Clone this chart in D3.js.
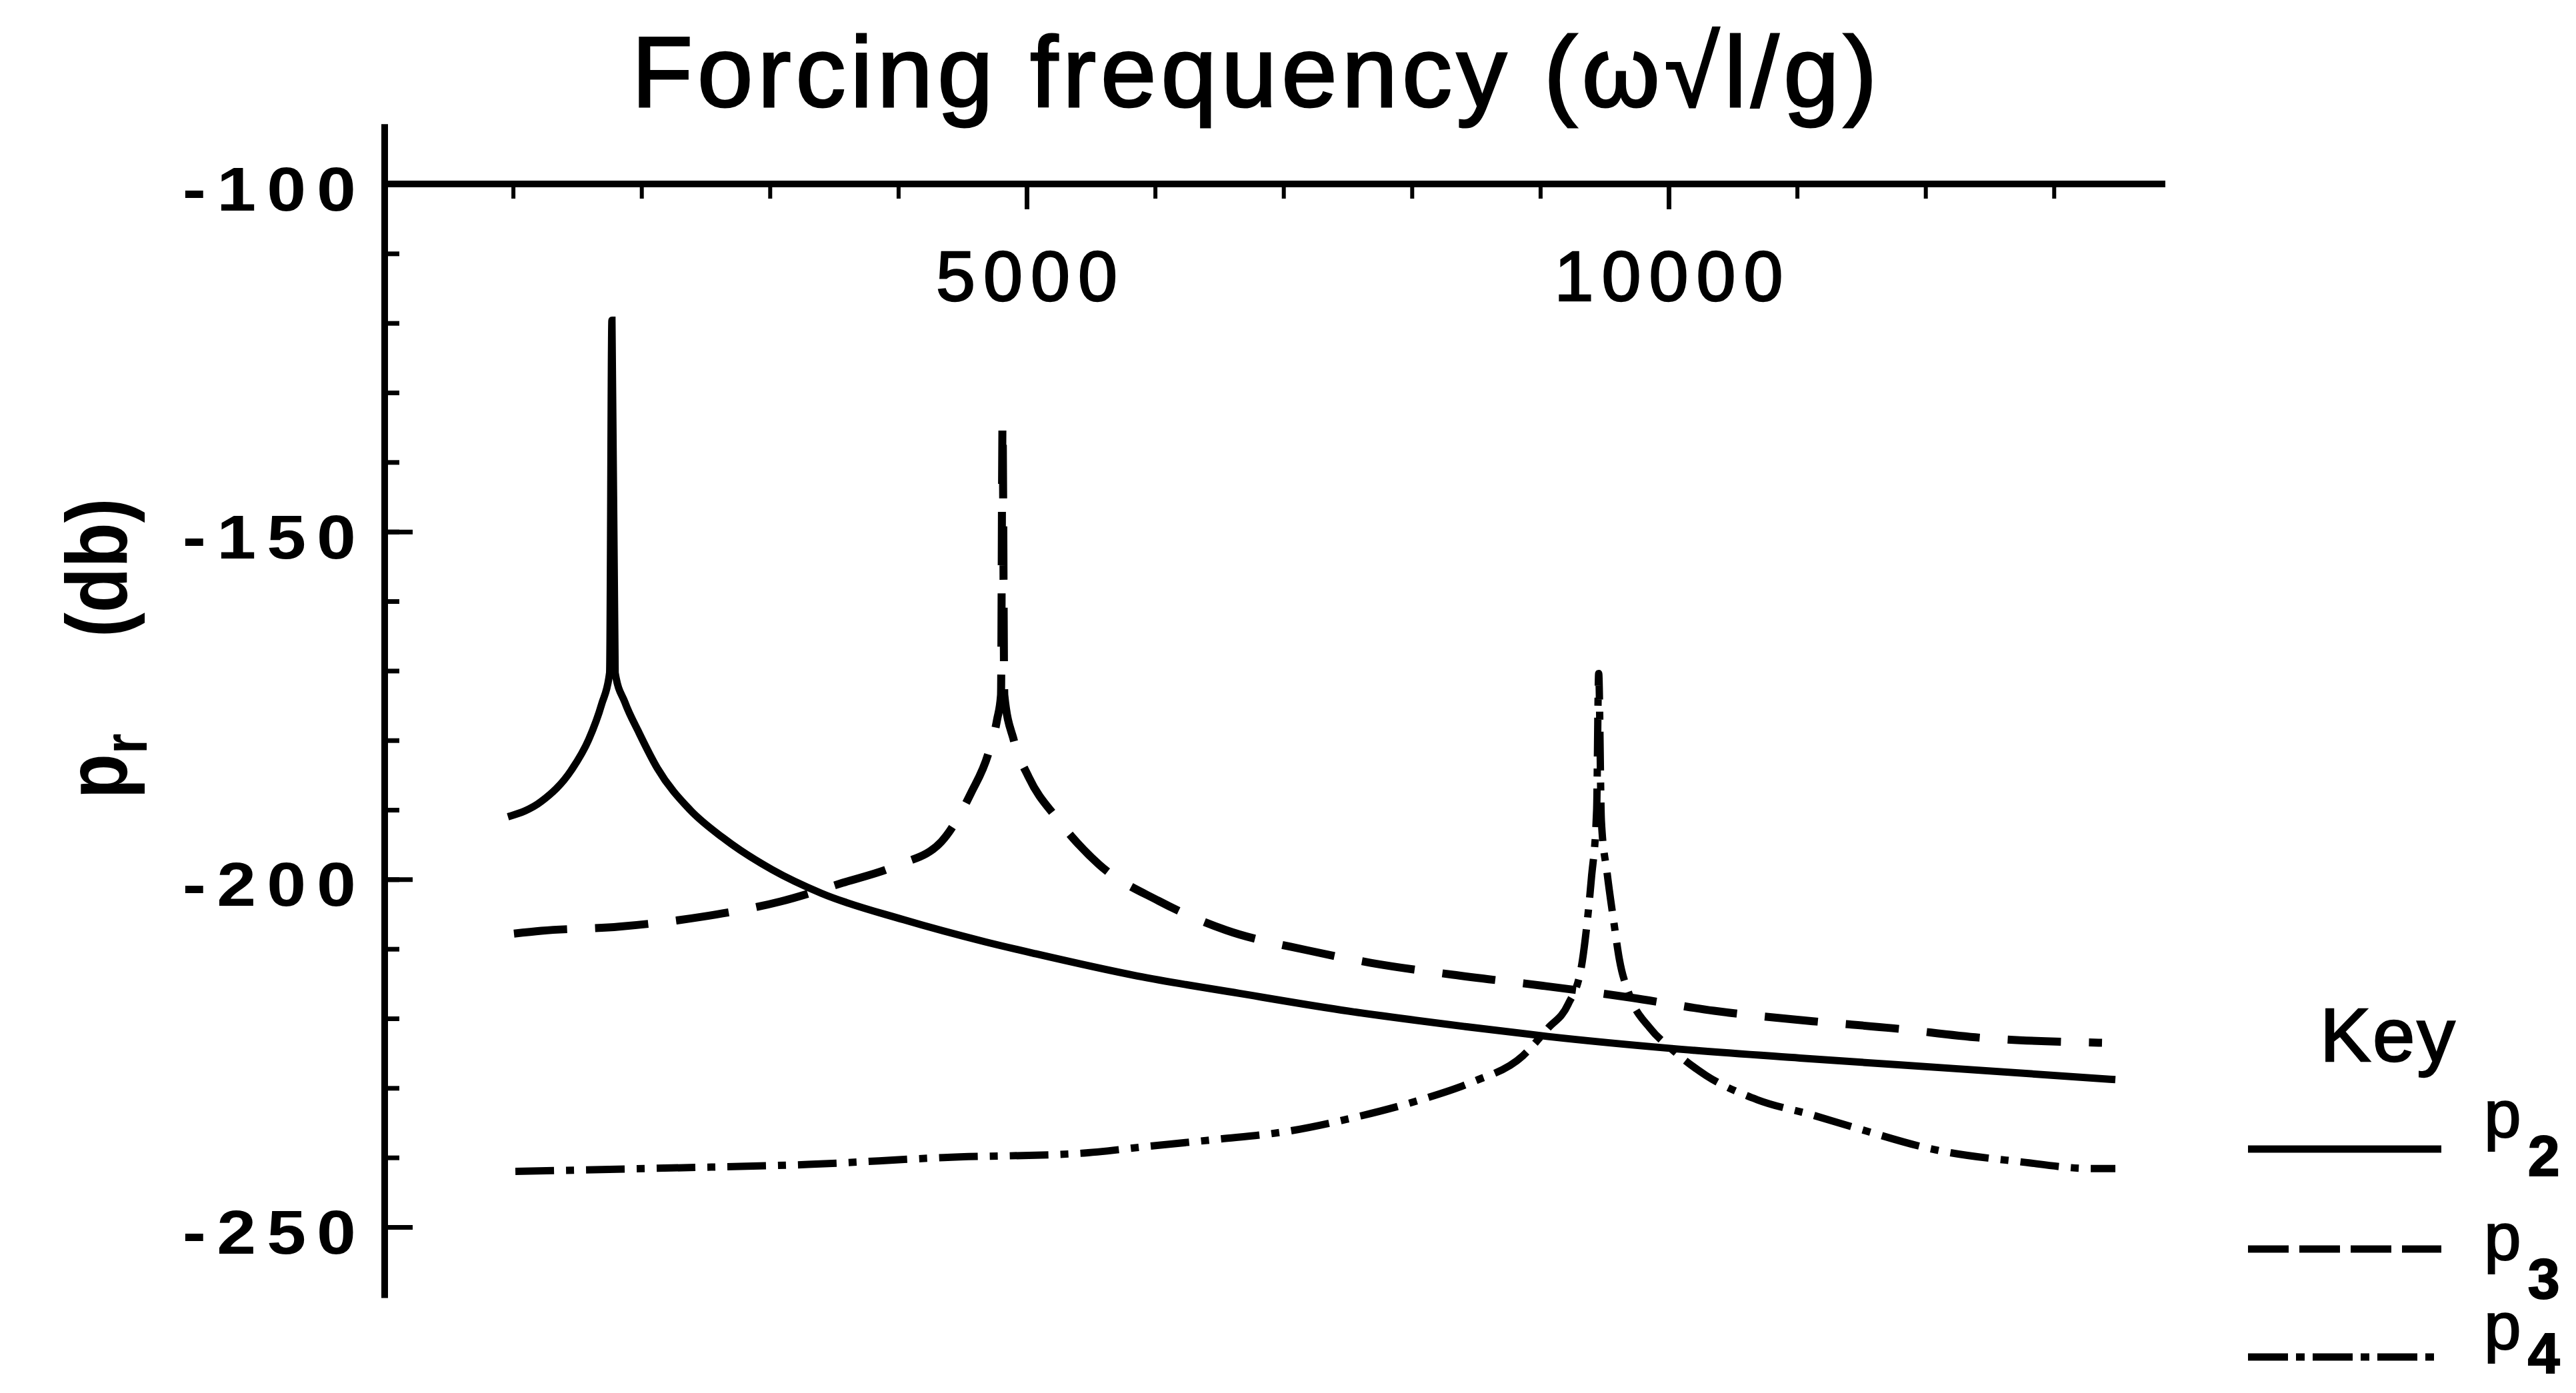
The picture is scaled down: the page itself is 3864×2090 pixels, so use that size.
<!DOCTYPE html>
<html>
<head>
<meta charset="utf-8">
<script src="https://cdn.jsdelivr.net/npm/d3@7"></script>
<style>
  html, body { margin: 0; padding: 0; background: #fff; }
  svg { display: block; background: #fff; }
  text { font-family: "Liberation Sans", Arial, Helvetica, sans-serif; fill: #000; }
  .heavy { stroke: #000; paint-order: stroke; }
</style>
</head>
<body>
<div id="chart"></div>
<script>

// values (frequency, level in db)
var p2Freq = [960, 1220, 1454, 1589, 1690, 1752, 1770, 1795, 1870, 1983, 2123, 2378, 2633, 3017, 3401, 4040, 4680, 5068, 5862, 6656, 7451, 8427, 9060, 10010, 11023, 12217, 13479];
var p2Db   = [-191.0, -188.8, -184.3, -179.9, -174.8, -170.3, -119.6, -170.3, -174.5, -179.0, -184.0, -190.0, -194.0, -198.6, -202.0, -205.8, -209.0, -210.7, -213.9, -216.4, -218.8, -221.2, -222.6, -224.3, -225.7, -227.2, -228.8];

var p3Freq = [1007, 1220, 1828, 2466, 3079, 3567, 3988, 4335, 4569, 4700, 4770, 4800, 4812, 4826, 4900, 5016, 5234, 5566, 6028, 6552, 7186, 7679, 8312, 9019, 9704, 10353, 11122, 11740, 12445, 13141, 13375];
var p3Db   = [-207.8, -207.4, -206.8, -205.4, -203.2, -200.5, -198.0, -194.6, -187.5, -182.0, -177.0, -173.5, -134.5, -173.5, -180.0, -185.3, -191.2, -197.9, -203.1, -207.3, -210.2, -212.0, -213.7, -215.3, -217.0, -218.9, -220.4, -221.4, -222.8, -223.4, -223.5];

var p4Freq = [1018, 2238, 3297, 4356, 5415, 5945, 6475, 7009, 7539, 8069, 8463, 8863, 9060, 9216, 9320, 9356, 9398, 9439, 9455, 9476, 9520, 9574, 9616, 9694, 9855, 10016, 10291, 10691, 11122, 11449, 12077, 12731, 13307, 13479];
var p4Db   = [-242.0, -241.5, -241.0, -240.0, -239.4, -238.4, -237.4, -236.3, -234.3, -231.7, -229.2, -225.4, -221.4, -218.0, -212.6, -207.7, -199.9, -190.1, -170.4, -191.6, -199.0, -206.3, -211.5, -216.6, -221.4, -224.3, -228.2, -231.7, -233.9, -235.7, -238.9, -240.6, -241.6, -241.6];

var seriesNames = ["2", "3", "4"];

var xMinorTicks = [1000, 2000, 3000, 4000, 5000, 6000, 7000, 8000, 9000, 10000, 11000, 12000, 13000];
var xMajorTicks = [5000, 10000];
var xTickLabels = ["5000", "10000"];

var yMinorTicks = [-110, -120, -130, -140, -150, -160, -170, -180, -190, -200, -210, -220, -230, -240, -250];
var yMajorTicks = [-150, -200, -250];
var yLabelTicks = [-100, -150, -200, -250];
var yTickLabels = ["-100", "-150", "-200", "-250"];

var width = 3864, height = 2090;

var svg = d3.select("#chart")
  .append("svg")
    .attr("width", width)
    .attr("height", height);

// scales
var x = d3.scaleLinear()
  .domain([0, 10000])
  .range([577, 2503]);

var y = d3.scaleLinear()
  .domain([-100, -250])
  .range([276, 1841]);

var axisW = 10;

// top (frequency) axis
svg.append("line")
  .attr("x1", x(0) - 5).attr("x2", x(13868))
  .attr("y1", y(-100)).attr("y2", y(-100))
  .attr("stroke", "#000").attr("stroke-width", axisW);

svg.append("g")
  .attr("transform", "translate(0," + y(-100) + ")")
  .call(d3.axisBottom(x).tickValues(xMinorTicks).tickSize(22).tickFormat(""))
  .call(function(g) { g.select(".domain").remove(); })
  .selectAll("line").attr("stroke-width", 6);

svg.append("g")
  .attr("transform", "translate(0," + y(-100) + ")")
  .call(d3.axisBottom(x).tickValues(xMajorTicks).tickSize(38).tickFormat(""))
  .call(function(g) { g.select(".domain").remove(); })
  .selectAll("line").attr("stroke-width", 7);

// level axis
svg.append("line")
  .attr("x1", x(0)).attr("x2", x(0))
  .attr("y1", y(-91.4)).attr("y2", y(-260.2))
  .attr("stroke", "#000").attr("stroke-width", axisW);

svg.append("g")
  .attr("transform", "translate(" + x(0) + ",0)")
  .call(d3.axisRight(y).tickValues(yMinorTicks).tickSize(22).tickFormat(""))
  .call(function(g) { g.select(".domain").remove(); })
  .selectAll("line").attr("stroke-width", 7);

svg.append("g")
  .attr("transform", "translate(" + x(0) + ",0)")
  .call(d3.axisRight(y).tickValues(yMajorTicks).tickSize(42).tickFormat(""))
  .call(function(g) { g.select(".domain").remove(); })
  .selectAll("line").attr("stroke-width", 7);

// tick labels
svg.append("g").selectAll("text")
  .data(xMajorTicks)
  .enter().append("text")
    .attr("class", "heavy")
    .attr("x", function(d) { return x(d) + 6; })
    .attr("y", 451)
    .attr("text-anchor", "middle")
    .style("font-size", "106px")
    .style("letter-spacing", "12px")
    .style("stroke-width", "2.5px")
    .text(function(d, i) { return xTickLabels[i]; });

// the plotter font is wide and loosely spaced
svg.append("g").selectAll("text")
  .data(yLabelTicks)
  .enter().append("text")
    .attr("transform", function(d) { return "translate(550," + (y(d) + 40) + ") scale(1.15,1)"; })
    .attr("text-anchor", "end")
    .style("font-size", "92px")
    .style("font-weight", "bold")
    .style("letter-spacing", "14px")
    .text(function(d, i) { return yTickLabels[i]; });

// titles
svg.append("text")
  .attr("class", "heavy")
  .attr("x", 1885)
  .attr("y", 160)
  .attr("text-anchor", "middle")
  .style("font-size", "150px")
  .style("letter-spacing", "7px")
  .style("stroke-width", "3px")
  .text("Forcing frequency (\u03c9\u221al/g)");

var yTitle = svg.append("text")
  .attr("transform", "translate(190,973) rotate(-90) scale(0.85,1)")
  .attr("text-anchor", "middle")
  .style("font-size", "130px")
  .style("font-weight", "bold");
yTitle.append("tspan").text("p");
yTitle.append("tspan").attr("dy", 30).style("font-size", "92px").text("r");
yTitle.append("tspan").attr("dy", -30).attr("dx", 170).text("(db)");

// curves
var line = d3.line()
  .x(function(d) { return x(d[0]); })
  .y(function(d) { return y(d[1]); })
  .curve(d3.curveMonotoneX);

var curves = [
  { f: p2Freq, v: p2Db, dash: null, w: 11 },
  { f: p3Freq, v: p3Db, dash: "80,42", w: 12 },
  { f: p4Freq, v: p4Db, dash: "58,18,12,18", w: 11 }
];

svg.append("g").selectAll("path")
  .data(curves)
  .enter().append("path")
    .attr("d", function(c) { return line(d3.zip(c.f, c.v)); })
    .attr("fill", "none")
    .attr("stroke", "#000")
    .attr("stroke-width", function(c) { return c.w; })
    .attr("stroke-dasharray", function(c) { return c.dash; });

// key
svg.append("text")
  .attr("class", "heavy")
  .attr("x", 3480)
  .attr("y", 1592)
  .style("font-size", "114px")
  .style("letter-spacing", "3px")
  .style("stroke-width", "2.5px")
  .text("Key");

var keyLineY = [1724, 1874, 2036];
var keyLabelY = [1706, 1890, 2024];
var keyDash = [null, "61,16", "60,12,13,12"];

var key = svg.append("g").selectAll("g")
  .data(seriesNames)
  .enter().append("g");

key.append("line")
  .attr("x1", 3372).attr("x2", 3662)
  .attr("y1", function(d, i) { return keyLineY[i]; })
  .attr("y2", function(d, i) { return keyLineY[i]; })
  .attr("stroke", "#000")
  .attr("stroke-width", 11)
  .attr("stroke-dasharray", function(d, i) { return keyDash[i]; });

var keyText = key.append("text")
  .attr("class", "heavy")
  .attr("x", 3726)
  .attr("y", function(d, i) { return keyLabelY[i]; })
  .style("font-size", "100px")
  .style("stroke-width", "2px");
keyText.append("tspan").text("p");
keyText.append("tspan")
  .attr("dx", 10).attr("dy", function(d, i) { return i === 2 ? 36 : 58; })
  .style("font-size", "86px")
  .style("font-weight", "bold")
  .text(function(d) { return d; });

</script>
</body>
</html>
